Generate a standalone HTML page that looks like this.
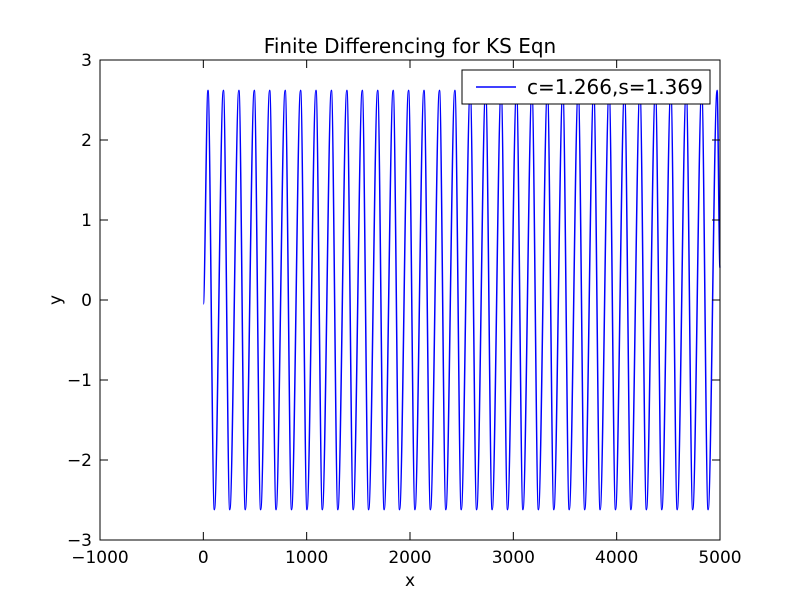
<!DOCTYPE html>
<html><head><meta charset="utf-8"><style>
body{margin:0;background:#fff;}
svg text{font-family:"DejaVu Sans","Liberation Sans",sans-serif;fill:#000;}
</style></head><body>
<svg id="chart" width="800" height="600" xmlns="http://www.w3.org/2000/svg">
<rect x="0" y="0" width="800" height="600" fill="#fff"/>
<text x="410" y="53" font-size="20" text-anchor="middle">Finite Differencing for KS Eqn</text>
<g id="plot"></g>
<g id="axes"></g>
<g>
<rect x="462" y="70" width="248" height="34" fill="#fff" stroke="#000" stroke-width="1"/>
<line x1="476" y1="87" x2="516" y2="87" stroke="#0000ff" stroke-width="1.4"/>
<text x="527" y="94" font-size="20">c=1.266,s=1.369</text>
</g>
<text x="410" y="586" font-size="17" text-anchor="middle">x</text>
<text x="61" y="300" font-size="17" text-anchor="middle" transform="rotate(-90 61 300)">y</text>
</svg>
<script>
const xTicks=[-1000,0,1000,2000,3000,4000,5000];
const yTicks=[-3,-2,-1,0,1,2,3];
const startPoint=[0,-0.05];
const endPoint=[5000,0.4];
const peakX=[45,194,344,493,642,792,941,1090,1239,1389,1538,1687,1837,1986,2135,2285,2434,2583,2732,2882,3031,3180,3330,3479,3628,3778,3927,4076,4225,4375,4524,4673,4823,4972];
const troughX=[107,256,406,555,704,854,1003,1152,1302,1451,1600,1750,1899,2048,2198,2347,2496,2645,2795,2944,3093,3243,3392,3541,3691,3840,3989,4138,4288,4437,4586,4736,4885];
const peakY=2.62, troughY=-2.62;

const L=100,R=720,T=60,B=540;
const sx=v=>L+(v+1000)/6000*(R-L);
const sy=v=>B-(v+3)/6*(B-T);
const NS="http://www.w3.org/2000/svg";
const axes=document.getElementById('axes');
const plot=document.getElementById('plot');

let pts=[startPoint];
for(let i=0;i<peakX.length;i++){pts.push([peakX[i],peakY]);if(i<troughX.length)pts.push([troughX[i],troughY]);}
pts.push(endPoint);
let d='M'+sx(pts[0][0]).toFixed(2)+','+sy(pts[0][1]).toFixed(2);
for(let i=1;i<pts.length;i++){
 const x0=sx(pts[i-1][0]),y0=sy(pts[i-1][1]),x1=sx(pts[i][0]),y1=sy(pts[i][1]);
 const dx=(x1-x0)/3;
 d+=' C'+(x0+dx).toFixed(2)+','+y0.toFixed(2)+' '+(x1-dx).toFixed(2)+','+y1.toFixed(2)+' '+x1.toFixed(2)+','+y1.toFixed(2);
}
const p=document.createElementNS(NS,'path');
p.setAttribute('d',d);p.setAttribute('fill','none');p.setAttribute('stroke','#0000ff');p.setAttribute('stroke-width','1.5');


plot.appendChild(p);

const frame=document.createElementNS(NS,'rect');
frame.setAttribute('x',L);frame.setAttribute('y',T);frame.setAttribute('width',R-L);frame.setAttribute('height',B-T);
frame.setAttribute('fill','none');frame.setAttribute('stroke','#000');frame.setAttribute('stroke-width','1');


axes.appendChild(frame);

function line(x1,y1,x2,y2){const l=document.createElementNS(NS,'line');l.setAttribute('x1',x1);l.setAttribute('y1',y1);l.setAttribute('x2',x2);l.setAttribute('y2',y2);l.setAttribute('stroke','#000');axes.appendChild(l);return l;}
xTicks.forEach(v=>{
 const x=sx(v);
 const t1=line(x,B,x,B-8);
 
 
 line(x,T,x,T+8);
 const t=document.createElementNS(NS,'text');
 t.setAttribute('x',x);t.setAttribute('y',B+23);t.setAttribute('font-size','17');t.setAttribute('text-anchor','middle');
 t.textContent=v<0?'\u2212'+Math.abs(v):String(v);
 
 
 axes.appendChild(t);
});
yTicks.forEach(v=>{
 const y=sy(v);
 const t1=line(L,y,L+8,y);
 
 
 line(R,y,R-8,y);
 const t=document.createElementNS(NS,'text');
 t.setAttribute('x',L-8);t.setAttribute('y',y+6);t.setAttribute('font-size','17');t.setAttribute('text-anchor','end');
 t.textContent=v<0?'\u2212'+Math.abs(v):String(v);
 
 
 axes.appendChild(t);
});
</script>
</body></html>
